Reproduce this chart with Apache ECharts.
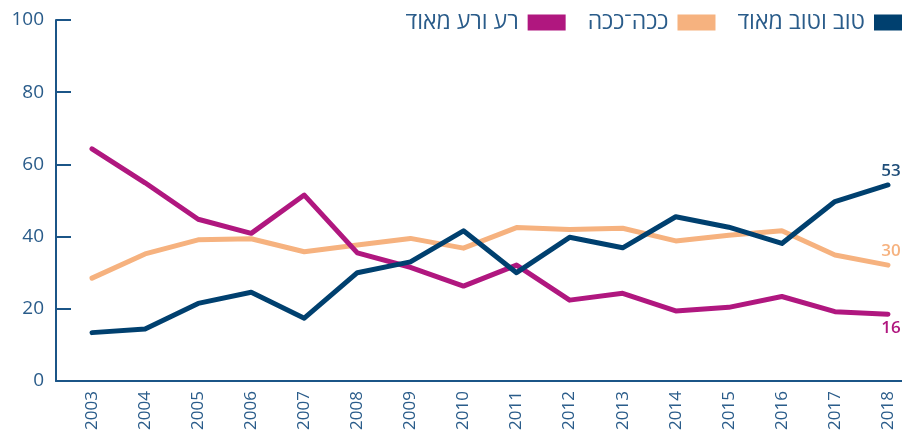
<!DOCTYPE html>
<html>
<head>
<meta charset="utf-8">
<script src="https://cdn.jsdelivr.net/npm/echarts@6/dist/echarts.min.js"></script>
<style>
  html, body { margin: 0; padding: 0; background: #fff; }
  #chart { width: 902px; height: 437px; }
</style>
</head>
<body>
<div id="chart"></div>
<script>
// 数据
var years = ['2003','2004','2005','2006','2007','2008','2009','2010','2011','2012','2013','2014','2015','2016','2017','2018'];
var good = [13.4, 14.4, 21.5, 24.6, 17.4, 30.0, 33.0, 41.6, 30.0, 39.8, 36.9, 45.5, 42.6, 38.1, 49.7, 54.3];
var soso = [28.5, 35.2, 39.1, 39.4, 35.8, 37.7, 39.5, 36.8, 42.5, 42.0, 42.3, 38.8, 40.4, 41.6, 34.9, 32.1];
var bad = [64.3, 54.9, 44.8, 40.9, 51.5, 35.5, 31.5, 26.3, 32.1, 22.4, 24.3, 19.4, 20.4, 23.4, 19.2, 18.5];
var names = ['טוב וטוב מאוד', 'ככה־ככה', 'רע ורע מאוד'];
var endLabels = ['53', '30', '16'];
var yTicks = [0, 20, 40, 60, 80, 100];

var axisColor = '#1b5587';
var textColor = '#2a5c8a';
var colors = ['#00406f', '#f6b27f', '#b0177f'];
var labelColors = ['#1f4e79', '#f6b27f', '#b0177f'];
var font = "'Open Sans', 'DejaVu Sans', sans-serif";

// 最后一个点的标签
function lastLabel(i, pos) {
	return {
		show: true,
		position: pos,
		distance: 5,
		offset: [3, 0],
		color: labelColors[i],
		fontFamily: font,
		fontSize: 17,
		fontWeight: 600,
		formatter: function(p) {
			return p.dataIndex === years.length - 1 ? endLabels[i] : '';
		}
	};
}

function makeSeries(i, data, pos) {
	return {
		name: names[i],
		type: 'line',
		data: data,
		symbol: 'circle',
		showSymbol: true,
		symbolSize: 0,
		lineStyle: { width: 5, color: colors[i], cap: 'round', join: 'round' },
		itemStyle: { color: colors[i] },
		label: lastLabel(i, pos),
		animation: false
	};
}

var myChart = echarts.init(document.getElementById('chart'));
var option = {
	backgroundColor: '#fff',
	animation: false,
	legend: {
		data: [names[2], names[1], names[0]],
		right: -10,
		top: 11,
		padding: 0,
		align: 'right',
		itemWidth: 38,
		itemHeight: 16,
		itemGap: 22,
		icon: 'rect',
		textStyle: { color: textColor, fontSize: 23, fontFamily: font, padding: [0, 4, 0, 0] }
	},
	grid: [
		{ left: 92, right: 14, top: 20, bottom: 56 },
		{ left: 56, right: 0, top: 20, bottom: 56 }
	],
	xAxis: [
		{
			type: 'category',
			data: years,
			boundaryGap: false,
			gridIndex: 0,
			axisLine: { show: false },
			axisTick: { show: false },
			axisLabel: { rotate: 90, margin: 10, color: textColor, fontSize: 17, fontFamily: font }
		},
		{
			type: 'value',
			gridIndex: 1,
			axisLine: { show: true, lineStyle: { color: axisColor, width: 2 } },
			axisTick: { show: false },
			axisLabel: { show: false },
			splitLine: { show: false }
		}
	],
	yAxis: [
		{
			type: 'value',
			gridIndex: 0,
			min: yTicks[0],
			max: yTicks[yTicks.length - 1],
			interval: 20,
			offset: 36,
			axisLine: { show: true, lineStyle: { color: axisColor, width: 2 } },
			axisTick: { show: true, inside: true, length: 15, lineStyle: { color: axisColor, width: 2 } },
			axisLabel: { margin: 12, color: textColor, fontSize: 19, fontFamily: font },
			splitLine: { show: false }
		},
		{
			type: 'value',
			gridIndex: 1,
			show: false
		}
	],
	series: [
		makeSeries(1, soso, 'top'),
		makeSeries(2, bad, 'bottom'),
		makeSeries(0, good, 'top')
	]
};
myChart.setOption(option);
</script>
</body>
</html>
